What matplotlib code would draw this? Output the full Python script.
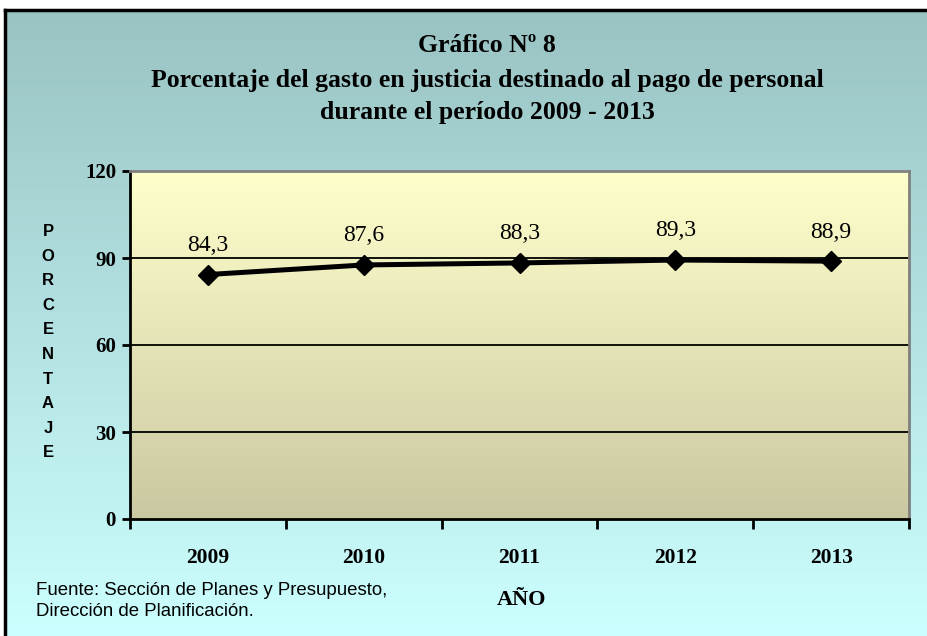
import matplotlib
matplotlib.use("Agg")
import matplotlib.pyplot as plt
import numpy as np
from matplotlib.colors import LinearSegmentedColormap
from matplotlib.lines import Line2D

years = ["2009", "2010", "2011", "2012", "2013"]
pct = [84.3, 87.6, 88.3, 89.3, 88.9]
pct_labels = ["84,3", "87,6", "88,3", "89,3", "88,9"]
yticks = [0, 30, 60, 90, 120]

SERIF = "Liberation Serif"
SANS = "Liberation Sans"

W, H = 927, 636
fig = plt.figure(figsize=(W / 100, H / 100), dpi=100)

# figure background gradient (teal grey at top -> pale cyan at bottom)
bg = fig.add_axes([0, 0, 1, 1], zorder=-10)
bg_cmap = LinearSegmentedColormap.from_list("bg", ["#99c2c2", "#ccffff"])
bg.imshow(np.linspace(0, 1, 256).reshape(-1, 1), aspect="auto", cmap=bg_cmap,
          extent=[0, 1, 0, 1], origin="upper")
bg.set_xlim(0, 1)
bg.set_ylim(0, 1)
bg.axis("off")
# white margin + black frame on top/left
bg.axhspan(1 - 8 / H, 1, color="white", zorder=2)
bg.axvspan(0, 4 / W, color="white", zorder=2)
bg.add_line(Line2D([5 / W, 1], [1 - 10 / H] * 2, color="black", lw=2.5, zorder=3))
bg.add_line(Line2D([5 / W] * 2, [0, 1 - 10 / H], color="black", lw=2.5, zorder=3))

ax = fig.add_axes([130 / W, 1 - 519 / H, 779 / W, 348 / H])
ax.set_facecolor("none")
pa_cmap = LinearSegmentedColormap.from_list("pa", ["#ffffcc", "#cac8a2"])
ax.imshow(np.linspace(0, 1, 256).reshape(-1, 1), aspect="auto", cmap=pa_cmap,
          extent=[0, 1, 0, 1], origin="upper", transform=ax.transAxes, zorder=0)

x = np.arange(len(years))
ax.set_xlim(-0.5, len(years) - 0.5)
ax.set_ylim(0, 120)

for v in yticks[1:-1]:
    ax.axhline(v, color="black", lw=1.3, zorder=1)

ax.plot(x, pct, color="black", lw=3.6, marker="D", markersize=10.5,
        markerfacecolor="black", zorder=3, clip_on=False)
for xi, v, lab in zip(x, pct, pct_labels):
    ax.annotate(lab, (xi, v), xytext=(0, 21), textcoords="offset points",
                ha="center", va="center", fontsize=17, family=SERIF)

# axes styling
for s in ("left", "bottom"):
    ax.spines[s].set_color("black")
    ax.spines[s].set_linewidth(2)
for s in ("top", "right"):
    ax.spines[s].set_color("#808080")
    ax.spines[s].set_linewidth(2)

ax.set_yticks(yticks)
ax.set_yticklabels([str(t) for t in yticks], family=SERIF, fontweight="bold", fontsize=15)
ax.tick_params(axis="y", direction="out", length=6, width=2, pad=4)

ax.set_xticks(np.arange(-0.5, len(years)), minor=True)
ax.set_xticks(x)
ax.set_xticklabels(years, family=SERIF, fontweight="bold", fontsize=15.5)
ax.tick_params(axis="x", which="major", length=0, pad=21)
ax.tick_params(axis="x", which="minor", direction="out", length=7, width=2)

# title
title_kw = dict(ha="center", va="center", family=SERIF, fontweight="bold", fontsize=18.5)
fig.text(487 / W, 1 - 46 / H, "Gráfico Nº 8", **title_kw)
fig.text(487 / W, 1 - 81 / H,
         "Porcentaje del gasto en justicia destinado al pago de personal", **title_kw)
fig.text(487 / W, 1 - 113 / H, "durante el período 2009 - 2013", **title_kw)

# stacked vertical y label
for i, ch in enumerate("PORCENTAJE"):
    fig.text(48 / W, 1 - (231.5 + i * 24.6) / H, ch, ha="center", va="center",
             family=SANS, fontweight="bold", fontsize=12)

fig.text(522 / W, 1 - 600 / H, "AÑO", ha="center", va="center",
         family=SERIF, fontweight="bold", fontsize=16)
fig.text(36 / W, 1 - 601 / H,
         "Fuente: Sección de Planes y Presupuesto,\nDirección de Planificación.",
         ha="left", va="center", family=SANS, fontsize=13.4, linespacing=1.3)

fig.savefig("out.png", dpi=100)
